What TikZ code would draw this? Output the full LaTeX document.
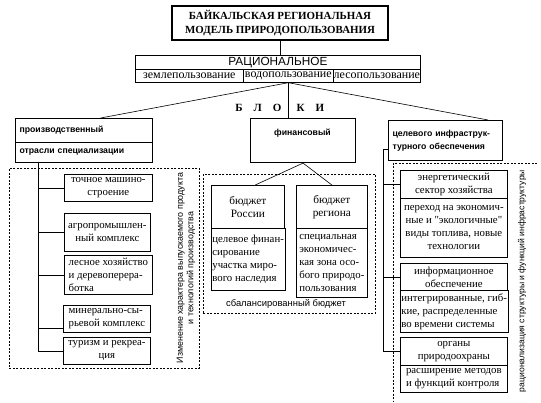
\documentclass[tikz,border=0pt]{standalone}
\usepackage{fontspec}
\setmainfont{Liberation Serif}
\setsansfont{Liberation Sans}
\newfontfamily\qfont{Liberation Serif}
\usetikzlibrary{calc}
\newcommand\bodyfs{\fontsize{10.8}{13}\selectfont}
\newcommand\sq{{\qfont"}}
\begin{document}
\begin{tikzpicture}[x=1pt,y=-1pt,
  conn/.style={line width=0.6pt},
  bx/.style={draw, line width=0.7pt, anchor=north west, inner xsep=1pt, inner ysep=0pt, font=\bodyfs, align=center},
  wh/.style 2 args={minimum width=#1pt, minimum height=#2pt},
  lt/.style={align=left},
  hb/.style={draw, line width=1.1pt, anchor=north west, inner xsep=4pt, inner ysep=0pt, font=\sffamily\bfseries\fontsize{8.7}{13}\selectfont},
  hbt/.style={font=\sffamily\bfseries\fontsize{8.7}{13}\selectfont},
  dotbox/.style={draw, dash pattern=on 2pt off 1.5pt, line width=0.5pt},
  small/.style={font=\sffamily\fontsize{8.6}{10}\selectfont}
]
\useasboundingbox (0,0) rectangle (541,402);

% title
\node[draw, line width=1.5pt, minimum width=216pt, minimum height=34pt, inner sep=0pt,
      font=\bfseries\fontsize{10.9}{14}\selectfont, align=center] (title) at (280,23)
      {БАЙКАЛЬСКАЯ РЕГИОНАЛЬНАЯ\\МОДЕЛЬ ПРИРОДОПОЛЬЗОВАНИЯ};

% rational
\node[bx, wh={285}{14}, font=\sffamily\fontsize{11.8}{13}\selectfont] (rat) at (135,55) {РАЦИОНАЛЬНОЕ};
\node[bx, wh={108}{13}, inner xsep=0pt, font=\fontsize{12}{13}\selectfont] (zem) at (135,69) {землепользование};
\node[bx, wh={90}{13}, inner xsep=0pt, font=\fontsize{12}{13}\selectfont] (vod) at (243,69) {водопользование};
\node[bx, wh={87}{13}, inner xsep=0pt, font=\fontsize{12}{13}\selectfont] (les) at (333,69) {лесопользование};

% blocks
\node[font=\bfseries\fontsize{11}{13}\selectfont, anchor=east] (blokiL) at (285,108) {Б\hspace{11pt}Л\hspace{11pt}О};
\node[font=\bfseries\fontsize{11}{13}\selectfont, anchor=west] (blokiR) at (293,108) {К\hspace{11pt}И};

\node[hb, wh={137}{24}, text width=129pt] (prodA) at (15,118) {производственный};
\node[hb, wh={137}{20}, text width=129pt] (prodB) at (15,142) {отрасли специализации};
\node[hb, wh={105}{44}] (fin) at (250,118) {};
\node[hbt] (finT) at (302.5,133) {финансовый};
\node[hb, wh={114}{40}, text width=106pt, align=left] (infra) at (388,120) {целевого инфраструк-\\турного обеспечения};

% financial
\node[dotbox, anchor=north west, minimum width=172pt, minimum height=139pt] (fdash) at (203,174) {};
\node[font=\sffamily\fontsize{9.4}{10}\selectfont] (balance) at (286,304) {сбалансированный бюджет};
\node[bx, wh={73}{43}, font=\fontsize{11.3}{13}\selectfont] (bR) at (211,185) {бюджет\\России};
\node[bx, wh={73}{62}, lt] (bRb) at (211,228) {целевое финан-\\сирование\\участка миро-\\вого наследия};
\node[bx, wh={71}{43}, font=\fontsize{11.3}{13}\selectfont] (bG) at (296,185) {бюджет\\региона};
\node[bx, wh={71}{69}, lt] (bGb) at (296,228) {специальная\\экономичес-\\кая зона осо-\\бого природо-\\пользования};

% production
\node[dotbox, anchor=north west, minimum width=190pt, minimum height=200pt] (pdash) at (9,168) {};
\node[font=\sffamily\fontsize{8.9}{10.5}\selectfont, rotate=90, align=center] (ptext) at (186,268)
  {Изменение характера выпускаемого продукта\\и технологий производства};
\node[bx, wh={88}{27}] (toch) at (64,174) {точное машино-\\строение};
\node[bx, wh={86}{38}] (agro) at (64,213) {агропромышлен-\\ный комплекс};
\node[bx, wh={88}{39}, lt] (lesh) at (64,255) {лесное хозяйство\\и деревоперера-\\ботка};
\node[bx, wh={87}{27}, lt] (minr) at (63,305) {минерально-сы-\\рьевой комплекс};
\node[bx, wh={87}{27}] (tur) at (63,337) {туризм и рекреа-\\ция};

% infrastructure
\draw[dotbox] (537,163) -- (393,163) -- (393,401);
\node[small, rotate=90] (itext) at (522,281) {рационализация структуры и функций инфраструктуры};
\node[bx, wh={107}{28}] (en) at (400,170) {энергетический\\сектор хозяйства};
\node[bx, wh={107}{59}] (enb) at (400,198) {переход на экономич-\\ные и \sq экологичные\sq\\виды топлива, новые\\технологии};
\node[bx, wh={107}{27}] (inf) at (400,263) {информационное\\обеспечение};
\node[bx, wh={107}{42}, lt] (infb) at (400,290) {интегрированные, гиб-\\кие, распределенные\\во времени системы};
\node[bx, wh={107}{28}] (org) at (400,337) {органы\\природоохраны};
\node[bx, wh={107}{27}, lt] (orgb) at (400,365) {расширение методов\\и функций контроля};

% connectors
\coordinate (hub) at (vod.south);
\draw[conn] (title.south) -- (title.south |- rat.north);
\draw[conn] (hub) -- ($(prodA.north west)!0.62!(prodA.north east)$);
\draw[conn] (hub) -- (hub |- fin.north);
\draw[conn] (hub) -- ($(infra.north west)!0.87!(infra.north east)$);
\draw[conn] (fin.south) -- ($(bR.north west)!0.6!(bR.north east)$);
\draw[conn] (fin.south) -- (bG.north);
\coordinate (ptrunk) at ($(prodB.south west)+(23,0)$);
\draw[conn] (ptrunk) |- (tur.west);
\draw[conn] (ptrunk |- toch.west) -- (toch.west);
\draw[conn] (ptrunk |- agro.west) -- (agro.west);
\draw[conn] (ptrunk |- lesh.west) -- (lesh.west);
\coordinate (minb) at ($(minr.south west)+(0,-4)$);
\draw[conn] (ptrunk |- minb) -- (minb);
\coordinate (itrunk) at ($(infra.south west)+(-5,-12)$);
\draw[conn] (infra.west |- itrunk) -- (itrunk) |- (org.west);
\draw[conn] (itrunk |- en.west) -- (en.west);
\draw[conn] (itrunk |- inf.west) -- (inf.west);
\end{tikzpicture}
\end{document}
